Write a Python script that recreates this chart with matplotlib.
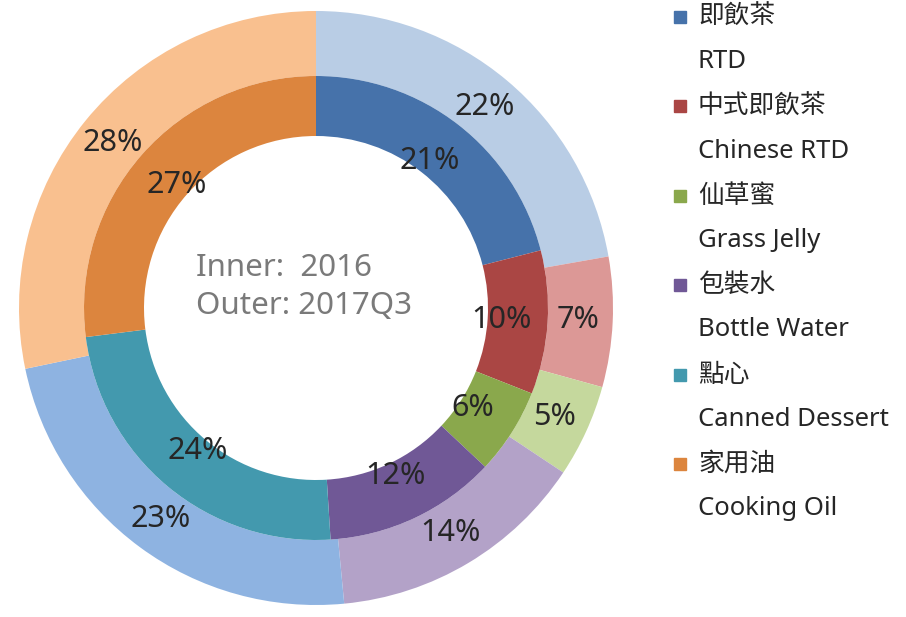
import matplotlib
matplotlib.use("Agg")
import matplotlib.pyplot as plt
import numpy as np

plt.rcParams['font.family'] = ['Noto Sans', 'Noto Sans CJK TC', 'DejaVu Sans']

categories_zh = ["即飲茶", "中式即飲茶", "仙草蜜", "包裝水", "點心", "家用油"]
categories_en = ["RTD", "Chinese RTD", "Grass Jelly", "Bottle Water", "Canned Dessert", "Cooking Oil"]
inner_2016 = [21, 10, 6, 12, 24, 27]
outer_2017q3 = [22, 7, 5, 14, 23, 28]

inner_colors = ["#4672AA", "#AA4644", "#8AA84C", "#705896", "#4399AE", "#DC853E"]
outer_colors = ["#B9CDE5", "#DC9896", "#C5D89D", "#B3A2C8", "#8EB3E1", "#F9C08F"]

W, H = 906, 617
fig = plt.figure(figsize=(W / 100, H / 100), dpi=100)
cx, cy, R = 316, 308, 297
ax = fig.add_axes([(cx - R) / W, (H - cy - R) / H, 2 * R / W, 2 * R / H])
ax.set_xlim(-1, 1)
ax.set_ylim(-1, 1)
ax.axis("off")

r_outer = 1.0
r_mid = 232 / R
r_hole = 172 / R

w_out, _ = ax.pie(outer_2017q3, radius=r_outer, colors=outer_colors, startangle=90,
                  counterclock=False, wedgeprops=dict(width=r_outer - r_mid, linewidth=0))
w_in, _ = ax.pie(inner_2016, radius=r_mid, colors=inner_colors, startangle=90,
                 counterclock=False, wedgeprops=dict(width=r_mid - r_hole, linewidth=0))
ax.set_xlim(-1, 1)
ax.set_ylim(-1, 1)

txt_color = "#262626"
def label_ring(wedges, values, rad):
    for w, v in zip(wedges, values):
        a = np.deg2rad((w.theta1 + w.theta2) / 2)
        ax.text(rad * np.cos(a), rad * np.sin(a), f"{v}%", ha="center", va="center",
                fontsize=22, color=txt_color)

label_ring(w_out, outer_2017q3, 262 / R)
label_ring(w_in, inner_2016, 186 / R)

fig.text(196 / W, 1 - 268 / H, "Inner:  2016", ha="left", va="center", fontsize=22.5, color="#7a7a7a")
fig.text(196 / W, 1 - 306 / H, "Outer: 2017Q3", ha="left", va="center", fontsize=22.5, color="#7a7a7a")

# legend
y0, dy = 17, 44.7
for i, (zh, en, c) in enumerate(zip(categories_zh, categories_en, inner_colors)):
    y1 = y0 + 2 * i * dy
    y2 = y1 + dy
    fig.patches.append(plt.Rectangle((674 / W, 1 - (y1 + 6) / H), 12 / W, 12 / H,
                                     transform=fig.transFigure, color=c))
    fig.text(698 / W, 1 - y1 / H, zh, ha="left", va="center", fontsize=18.5,
             color="#262626", family=['Noto Sans CJK TC', 'DejaVu Sans'])
    fig.text(698 / W, 1 - y2 / H, en, ha="left", va="center", fontsize=18.5, color="#262626")

fig.savefig("out.png", dpi=100)
